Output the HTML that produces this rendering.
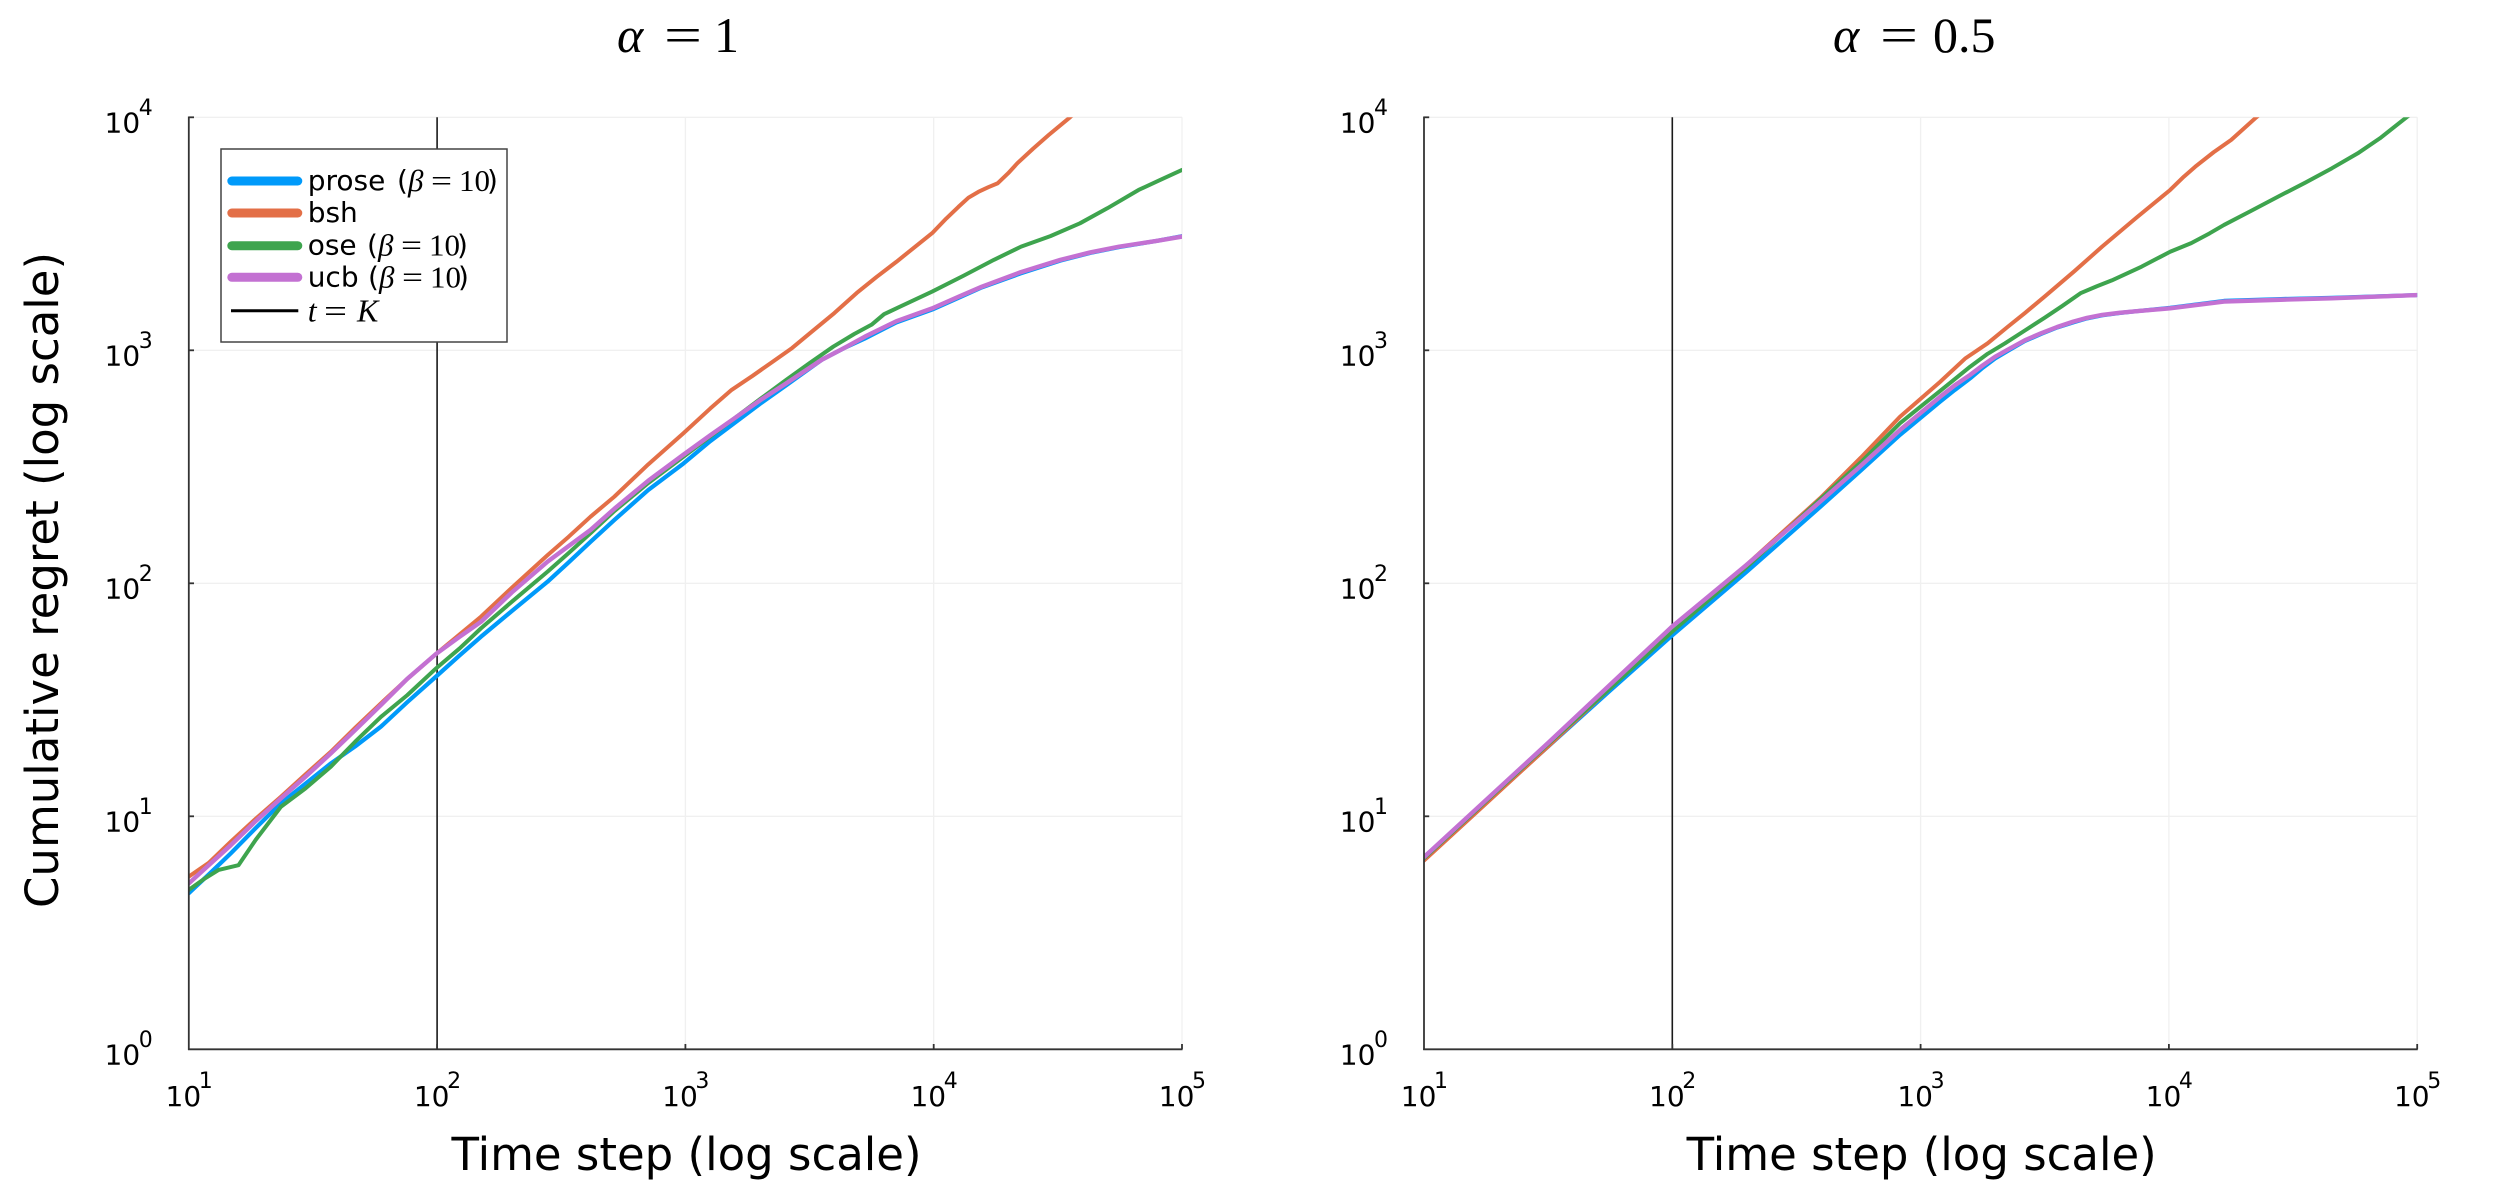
<!DOCTYPE html>
<html>
<head>
<meta charset="utf-8">
<style>
  html,body{margin:0;padding:0;background:#fff;}
  svg{display:block;}
  .sans{font-family:"DejaVu Sans","Liberation Sans",sans-serif;}
  .serif{font-family:"Liberation Serif","DejaVu Serif",serif;}
</style>
</head>
<body>
<svg width="2500" height="1200" viewBox="0 0 2500 1200" xmlns="http://www.w3.org/2000/svg">
  <rect x="0" y="0" width="2500" height="1200" fill="#fff"/>
  <defs>
    <clipPath id="c1"><rect x="188.8" y="117.3" width="993.2" height="932"/></clipPath>
    <clipPath id="c2"><rect x="1424" y="117.3" width="993.2" height="932"/></clipPath>
  </defs>

  <!-- ================= LEFT PLOT ================= -->
  <g stroke="#f0f0f0" stroke-width="1.3" fill="none">
    <line x1="437.1" y1="117.3" x2="437.1" y2="1049.3"/>
    <line x1="685.4" y1="117.3" x2="685.4" y2="1049.3"/>
    <line x1="933.7" y1="117.3" x2="933.7" y2="1049.3"/>
    <line x1="1182" y1="117.3" x2="1182" y2="1049.3"/>
    <line x1="188.8" y1="117.3" x2="1182" y2="117.3"/>
    <line x1="188.8" y1="350.3" x2="1182" y2="350.3"/>
    <line x1="188.8" y1="583.3" x2="1182" y2="583.3"/>
    <line x1="188.8" y1="816.3" x2="1182" y2="816.3"/>
  </g>
  <!-- t = K vertical line -->
  <line x1="437.1" y1="117.3" x2="437.1" y2="1049.3" stroke="#1a1a1a" stroke-width="1.6"/>

  <g clip-path="url(#c1)">
    <g transform="translate(-59.5,1049.3) scale(248.3,-233)" fill="none" stroke-linejoin="round" stroke-linecap="round">
      <polyline vector-effect="non-scaling-stroke" stroke="#009AFA" stroke-width="4.2"
        points="1,0.67 1.08,0.75 1.169,0.841 1.27,0.95 1.371,1.056 1.47,1.14 1.572,1.227 1.67,1.30 1.774,1.385 1.88,1.49 1.996,1.6 2.09,1.69 2.177,1.771 2.3,1.88 2.445,2.007 2.53,2.09 2.618,2.178 2.714,2.272 2.85,2.4 2.992,2.514 3.1,2.61 3.2,2.69 3.3,2.77 3.406,2.85 3.55,2.96 3.64,3.01 3.722,3.05 3.85,3.12 3.994,3.175 4.1,3.225 4.194,3.27 4.35,3.33 4.51,3.385 4.63,3.418 4.747,3.443 4.9,3.47 5,3.49"/>
      <polyline vector-effect="non-scaling-stroke" stroke="#E36F47" stroke-width="4"
        points="1,0.741 1.08,0.80 1.169,0.891 1.27,0.99 1.371,1.084 1.47,1.18 1.572,1.277 1.67,1.38 1.774,1.485 1.88,1.59 1.996,1.697 2.09,1.78 2.177,1.857 2.3,1.98 2.445,2.121 2.53,2.20 2.618,2.286 2.714,2.372 2.85,2.51 2.992,2.644 3.1,2.75 3.186,2.83 3.27,2.89 3.35,2.95 3.43,3.01 3.501,3.073 3.6,3.16 3.69,3.246 3.77,3.315 3.85,3.38 3.92,3.44 3.994,3.503 4.05,3.565 4.1,3.616 4.14,3.655 4.18,3.68 4.22,3.70 4.258,3.717 4.3,3.76 4.337,3.803 4.4,3.865 4.463,3.924 4.549,4.0 4.62,4.07"/>
      <polyline vector-effect="non-scaling-stroke" stroke="#3EA44E" stroke-width="4"
        points="1,0.684 1.06,0.73 1.12,0.77 1.2,0.79 1.27,0.90 1.371,1.041 1.47,1.12 1.572,1.213 1.67,1.32 1.774,1.427 1.88,1.52 1.996,1.635 2.09,1.72 2.177,1.807 2.3,1.92 2.445,2.05 2.53,2.13 2.618,2.215 2.714,2.31 2.85,2.43 2.992,2.543 3.1,2.63 3.2,2.71 3.3,2.79 3.406,2.873 3.5,2.945 3.596,3.016 3.68,3.07 3.75,3.11 3.8,3.155 3.864,3.187 3.994,3.252 4.12,3.32 4.242,3.388 4.352,3.445 4.47,3.49 4.589,3.545 4.7,3.61 4.825,3.688 4.91,3.73 5,3.774"/>
      <polyline vector-effect="non-scaling-stroke" stroke="#C371D2" stroke-width="4.4"
        points="1,0.712 1.08,0.79 1.169,0.876 1.27,0.98 1.371,1.077 1.47,1.17 1.572,1.27 1.67,1.37 1.774,1.478 1.88,1.59 1.996,1.697 2.09,1.77 2.177,1.835 2.3,1.96 2.445,2.093 2.53,2.16 2.618,2.229 2.714,2.32 2.85,2.44 2.992,2.552 3.1,2.635 3.2,2.71 3.3,2.785 3.406,2.858 3.55,2.96 3.64,3.01 3.722,3.058 3.85,3.125 3.994,3.18 4.1,3.23 4.194,3.273 4.35,3.335 4.51,3.388 4.63,3.42 4.747,3.445 4.9,3.47 5,3.488"/>
    </g>
  </g>

  <!-- axes -->
  <g stroke="#333" stroke-width="1.8" fill="none">
    <line x1="188.8" y1="116.5" x2="188.8" y2="1050"/>
    <line x1="188" y1="1049.3" x2="1182.5" y2="1049.3"/>
    <line x1="188.8" y1="117.3" x2="194" y2="117.3"/>
    <line x1="188.8" y1="350.3" x2="194" y2="350.3"/>
    <line x1="188.8" y1="583.3" x2="194" y2="583.3"/>
    <line x1="188.8" y1="816.3" x2="194" y2="816.3"/>
    <line x1="437.1" y1="1049.3" x2="437.1" y2="1044"/>
    <line x1="685.4" y1="1049.3" x2="685.4" y2="1044"/>
    <line x1="933.7" y1="1049.3" x2="933.7" y2="1044"/>
    <line x1="1182" y1="1049.3" x2="1182" y2="1044"/>
  </g>

  <!-- left y tick labels -->
  <g class="sans" fill="#000">
    <text x="140.2" y="132.3" font-size="28" text-anchor="end">10</text><text x="152.8" y="114.8" font-size="22" text-anchor="end">4</text>
    <text x="140.2" y="365.3" font-size="28" text-anchor="end">10</text><text x="152.8" y="347.8" font-size="22" text-anchor="end">3</text>
    <text x="140.2" y="598.3" font-size="28" text-anchor="end">10</text><text x="152.8" y="580.8" font-size="22" text-anchor="end">2</text>
    <text x="140.2" y="831.3" font-size="28" text-anchor="end">10</text><text x="152.8" y="813.8" font-size="22" text-anchor="end">1</text>
    <text x="140.2" y="1064.3" font-size="28" text-anchor="end">10</text><text x="152.8" y="1046.8" font-size="22" text-anchor="end">0</text>
  </g>
  <!-- left x tick labels -->
  <g class="sans" fill="#000">
    <text x="201.2" y="1106" font-size="28" text-anchor="end">10</text><text x="198.8" y="1088" font-size="22">1</text>
    <text x="449.5" y="1106" font-size="28" text-anchor="end">10</text><text x="447.1" y="1088" font-size="22">2</text>
    <text x="697.8" y="1106" font-size="28" text-anchor="end">10</text><text x="695.4" y="1088" font-size="22">3</text>
    <text x="946.1" y="1106" font-size="28" text-anchor="end">10</text><text x="943.7" y="1088" font-size="22">4</text>
    <text x="1194.4" y="1106" font-size="28" text-anchor="end">10</text><text x="1192" y="1088" font-size="22">5</text>
  </g>

  <!-- left title -->
  <text class="serif" y="52" font-size="50" fill="#000"><tspan x="617" font-style="italic">α</tspan><tspan x="664" textLength="38" lengthAdjust="spacingAndGlyphs">=</tspan><tspan x="714">1</tspan></text>

  <!-- x label left -->
  <text class="sans" x="686.5" y="1170" font-size="45" text-anchor="middle" fill="#000">Time step (log scale)</text>
  <!-- y label -->
  <text class="sans" transform="translate(58,580) rotate(-90)" x="0" y="0" font-size="45" text-anchor="middle" fill="#000">Cumulative regret (log scale)</text>

  <!-- legend -->
  <rect x="221" y="149" width="286" height="193" fill="#fff" stroke="#444" stroke-width="1.5"/>
  <g stroke-linecap="round" stroke-width="9">
    <line x1="231.8" y1="181" x2="297.8" y2="181" stroke="#009AFA"/>
    <line x1="231.8" y1="213" x2="297.8" y2="213" stroke="#E36F47"/>
    <line x1="231.8" y1="245.7" x2="297.8" y2="245.7" stroke="#3EA44E"/>
    <line x1="231.8" y1="277.3" x2="297.8" y2="277.3" stroke="#C371D2"/>
  </g>
  <line x1="231" y1="310.7" x2="298.3" y2="310.7" stroke="#000" stroke-width="3"/>
  <g fill="#000" font-size="28">
    <text class="sans" x="307.7" y="190">prose</text>
    <text class="sans" x="397" y="190">(</text>
    <text class="serif" x="408" y="191" font-size="31" font-style="italic">β</text>
    <text class="serif" x="431" y="191" font-size="31" textLength="21" lengthAdjust="spacingAndGlyphs">=</text>
    <text class="serif" x="459" y="191" font-size="31">10</text>
    <text class="sans" x="487" y="190">)</text>

    <text class="sans" x="307.7" y="222">bsh</text>

    <text class="sans" x="307.7" y="254.7">ose</text>
    <text class="sans" x="367" y="254.7">(</text>
    <text class="serif" x="378" y="255.7" font-size="31" font-style="italic">β</text>
    <text class="serif" x="401" y="255.7" font-size="31" textLength="21" lengthAdjust="spacingAndGlyphs">=</text>
    <text class="serif" x="429" y="255.7" font-size="31">10</text>
    <text class="sans" x="457" y="254.7">)</text>

    <text class="sans" x="307.7" y="286.3">ucb</text>
    <text class="sans" x="368" y="286.3">(</text>
    <text class="serif" x="379" y="287.3" font-size="31" font-style="italic">β</text>
    <text class="serif" x="402" y="287.3" font-size="31" textLength="21" lengthAdjust="spacingAndGlyphs">=</text>
    <text class="serif" x="430" y="287.3" font-size="31">10</text>
    <text class="sans" x="458" y="286.3">)</text>

    <text class="serif" x="307.7" y="321.7" font-size="32" font-style="italic">t</text>
    <text class="serif" x="324" y="321.7" font-size="32" textLength="23" lengthAdjust="spacingAndGlyphs">=</text>
    <text class="serif" x="357" y="321.7" font-size="32" font-style="italic">K</text>
  </g>

  <!-- ================= RIGHT PLOT ================= -->
  <g stroke="#f0f0f0" stroke-width="1.3" fill="none">
    <line x1="1672.3" y1="117.3" x2="1672.3" y2="1049.3"/>
    <line x1="1920.6" y1="117.3" x2="1920.6" y2="1049.3"/>
    <line x1="2168.9" y1="117.3" x2="2168.9" y2="1049.3"/>
    <line x1="2417.2" y1="117.3" x2="2417.2" y2="1049.3"/>
    <line x1="1424" y1="117.3" x2="2417.2" y2="117.3"/>
    <line x1="1424" y1="350.3" x2="2417.2" y2="350.3"/>
    <line x1="1424" y1="583.3" x2="2417.2" y2="583.3"/>
    <line x1="1424" y1="816.3" x2="2417.2" y2="816.3"/>
  </g>
  <line x1="1672.3" y1="117.3" x2="1672.3" y2="1049.3" stroke="#1a1a1a" stroke-width="1.6"/>

  <g clip-path="url(#c2)">
    <g transform="translate(1175.7,1049.3) scale(248.3,-233)" fill="none" stroke-linejoin="round" stroke-linecap="round">
      <polyline vector-effect="non-scaling-stroke" stroke="#009AFA" stroke-width="4.2"
        points="1,0.825 1.25,1.06 1.5,1.30 1.75,1.54 1.998,1.775 2.3,2.05 2.595,2.327 2.76,2.485 2.917,2.637 3.078,2.779 3.138,2.83 3.2,2.88 3.25,2.925 3.3,2.965 3.355,3.0 3.42,3.04 3.485,3.07 3.55,3.098 3.615,3.12 3.67,3.137 3.731,3.15 3.8,3.16 3.87,3.168 4.005,3.182 4.222,3.212 4.45,3.22 4.656,3.225 5,3.237"/>
      <polyline vector-effect="non-scaling-stroke" stroke="#E36F47" stroke-width="4"
        points="1,0.81 1.25,1.055 1.5,1.30 1.75,1.55 1.998,1.80 2.3,2.08 2.595,2.365 2.76,2.54 2.917,2.715 3.078,2.864 3.181,2.966 3.27,3.03 3.35,3.1 3.42,3.16 3.499,3.23 3.62,3.34 3.731,3.445 3.87,3.57 4.005,3.688 4.06,3.745 4.106,3.788 4.18,3.85 4.251,3.903 4.352,4.0 4.42,4.06"/>
      <polyline vector-effect="non-scaling-stroke" stroke="#3EA44E" stroke-width="4"
        points="1,0.82 1.25,1.065 1.5,1.31 1.75,1.55 1.998,1.791 2.3,2.07 2.595,2.36 2.76,2.52 2.917,2.687 3.078,2.825 3.2,2.93 3.27,2.985 3.34,3.03 3.42,3.085 3.5,3.14 3.57,3.19 3.644,3.245 3.71,3.275 3.77,3.30 3.89,3.359 4.005,3.423 4.09,3.46 4.164,3.502 4.222,3.538 4.33,3.598 4.439,3.659 4.55,3.72 4.656,3.781 4.76,3.845 4.85,3.91 4.957,4.0 5.02,4.05"/>
      <polyline vector-effect="non-scaling-stroke" stroke="#C371D2" stroke-width="4.4"
        points="1,0.825 1.25,1.07 1.5,1.315 1.75,1.565 1.998,1.813 2.3,2.08 2.595,2.35 2.76,2.505 2.917,2.658 3.078,2.8 3.138,2.85 3.2,2.895 3.25,2.935 3.3,2.972 3.355,3.005 3.42,3.043 3.485,3.073 3.55,3.1 3.615,3.123 3.67,3.139 3.731,3.152 3.8,3.161 3.87,3.168 4.005,3.18 4.222,3.209 4.45,3.217 4.656,3.223 5,3.237"/>
    </g>
  </g>

  <g stroke="#333" stroke-width="1.8" fill="none">
    <line x1="1424" y1="116.5" x2="1424" y2="1050"/>
    <line x1="1423.2" y1="1049.3" x2="2417.7" y2="1049.3"/>
    <line x1="1424" y1="117.3" x2="1429.2" y2="117.3"/>
    <line x1="1424" y1="350.3" x2="1429.2" y2="350.3"/>
    <line x1="1424" y1="583.3" x2="1429.2" y2="583.3"/>
    <line x1="1424" y1="816.3" x2="1429.2" y2="816.3"/>
    <line x1="1672.3" y1="1049.3" x2="1672.3" y2="1044"/>
    <line x1="1920.6" y1="1049.3" x2="1920.6" y2="1044"/>
    <line x1="2168.9" y1="1049.3" x2="2168.9" y2="1044"/>
    <line x1="2417.2" y1="1049.3" x2="2417.2" y2="1044"/>
  </g>

  <g class="sans" fill="#000">
    <text x="1375.4" y="132.3" font-size="28" text-anchor="end">10</text><text x="1388" y="114.8" font-size="22" text-anchor="end">4</text>
    <text x="1375.4" y="365.3" font-size="28" text-anchor="end">10</text><text x="1388" y="347.8" font-size="22" text-anchor="end">3</text>
    <text x="1375.4" y="598.3" font-size="28" text-anchor="end">10</text><text x="1388" y="580.8" font-size="22" text-anchor="end">2</text>
    <text x="1375.4" y="831.3" font-size="28" text-anchor="end">10</text><text x="1388" y="813.8" font-size="22" text-anchor="end">1</text>
    <text x="1375.4" y="1064.3" font-size="28" text-anchor="end">10</text><text x="1388" y="1046.8" font-size="22" text-anchor="end">0</text>
  </g>
  <g class="sans" fill="#000">
    <text x="1436.4" y="1106" font-size="28" text-anchor="end">10</text><text x="1434" y="1088" font-size="22">1</text>
    <text x="1684.7" y="1106" font-size="28" text-anchor="end">10</text><text x="1682.3" y="1088" font-size="22">2</text>
    <text x="1933" y="1106" font-size="28" text-anchor="end">10</text><text x="1930.6" y="1088" font-size="22">3</text>
    <text x="2181.3" y="1106" font-size="28" text-anchor="end">10</text><text x="2178.9" y="1088" font-size="22">4</text>
    <text x="2429.6" y="1106" font-size="28" text-anchor="end">10</text><text x="2427.2" y="1088" font-size="22">5</text>
  </g>

  <text class="serif" y="52" font-size="50" fill="#000"><tspan x="1833" font-style="italic">α</tspan><tspan x="1880" textLength="38" lengthAdjust="spacingAndGlyphs">=</tspan><tspan x="1933">0.5</tspan></text>

  <text class="sans" x="1921.7" y="1170" font-size="45" text-anchor="middle" fill="#000">Time step (log scale)</text>
</svg>
</body>
</html>
